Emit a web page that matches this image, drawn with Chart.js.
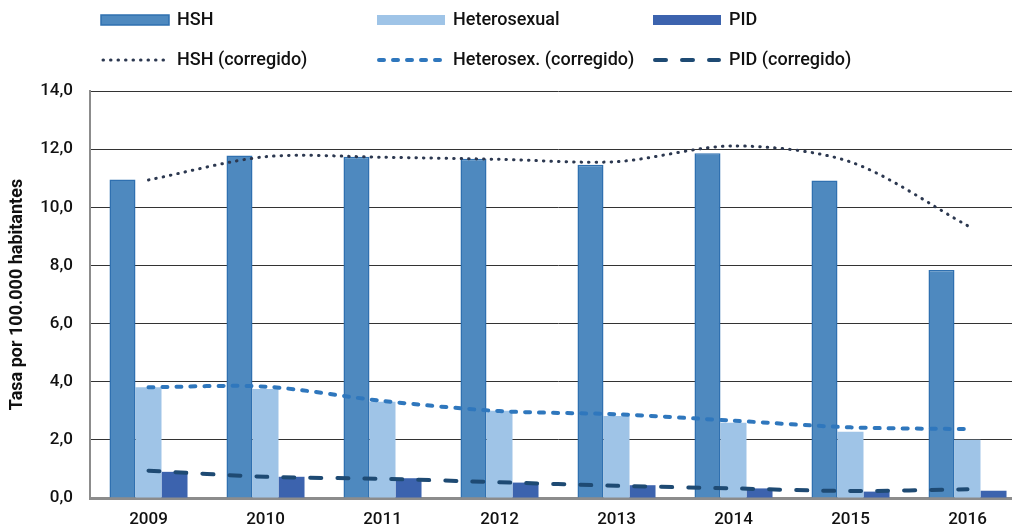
<!DOCTYPE html>
<html>
<head>
<meta charset="utf-8">
<script src="https://cdn.jsdelivr.net/npm/chart.js@4/dist/chart.umd.min.js"></script>
<style>
  html, body { margin: 0; padding: 0; background: #fff; overflow: hidden; }
  #wrap { position: absolute; left: 0; top: 0; width: 1040px; height: 530px; }
</style>
</head>
<body>
<div id="wrap"><canvas id="chart"></canvas></div>
<script>
const years = ["2009", "2010", "2011", "2012", "2013", "2014", "2015", "2016"];

// tasas observadas (barras)
const hsh = [10.96, 11.78, 11.74, 11.67, 11.46, 11.86, 10.92, 7.84];
const heterosexual = [3.81, 3.75, 3.31, 3.00, 2.82, 2.59, 2.28, 2.00];
const pid = [0.90, 0.73, 0.68, 0.53, 0.44, 0.33, 0.22, 0.25];

// tasas corregidas (lineas)
const hshCorr = [10.94, 11.74, 11.72, 11.65, 11.57, 12.11, 11.56, 9.37];
const heteroCorr = [3.81, 3.83, 3.34, 2.99, 2.88, 2.66, 2.43, 2.37];
const pidCorr = [0.94, 0.73, 0.66, 0.54, 0.42, 0.33, 0.24, 0.30];

const yTicks = { min: 0, max: 14, step: 2 };

const fontFamily = "Roboto, 'Liberation Sans', Arial, sans-serif";
Chart.defaults.font.family = fontFamily;
Chart.defaults.font.size = 17;
Chart.defaults.font.weight = 500;
Chart.defaults.color = "#111";

// leyenda en rejilla de 3 columnas, como en el original
const gridLegend = {
  id: "gridLegend",
  afterDraw(chart) {
    const ctx = chart.ctx;
    ctx.save();
    ctx.font = "500 18px " + fontFamily;
    ctx.textBaseline = "middle";
    chart.data.datasets.forEach((ds, i) => {
      const x = 101 + (i % 3) * 276;
      const y = 20 + Math.floor(i / 3) * 40;
      if (ds.type === "bar") {
        ctx.fillStyle = ds.backgroundColor;
        ctx.fillRect(x, y - 5, 68, 10);
        if (ds.borderWidth) {
          ctx.strokeStyle = ds.borderColor;
          ctx.lineWidth = ds.borderWidth;
          ctx.strokeRect(x, y - 5, 68, 10);
        }
      } else {
        ctx.strokeStyle = ds.borderColor;
        ctx.lineWidth = ds.borderWidth;
        ctx.lineCap = ds.borderCapStyle;
        ctx.setLineDash(ds.borderDash);
        ctx.beginPath();
        ctx.moveTo(x + 2, y);
        ctx.lineTo(x + 66, y);
        ctx.stroke();
        ctx.setLineDash([]);
      }
      ctx.fillStyle = "#111";
      ctx.fillText(ds.label, x + 76, y);
    });
    ctx.restore();
  }
};

function barSet(label, data, fill, border, bw) {
  return {
    type: "bar", label, data,
    backgroundColor: fill, borderColor: border, borderWidth: bw,
    categoryPercentage: 0.667, barPercentage: 1.0, order: 2,
  };
}

function lineSet(label, data, color, width, dash) {
  return {
    type: "line", label, data,
    borderColor: color, borderWidth: width, borderDash: dash,
    borderCapStyle: "round", tension: 0.3, pointRadius: 0,
    fill: false, order: 1,
  };
}

new Chart(document.getElementById("chart"), {
  data: {
    labels: years,
    datasets: [
      barSet("HSH", hsh, "#4e89bf", "#2f70b0", 1.5),
      barSet("Heterosexual", heterosexual, "#9fc4e7", "#9fc4e7", 0),
      barSet("PID", pid, "#3c63ae", "#3c63ae", 0),
      lineSet("HSH (corregido)", hshCorr, "#2c3850", 3, [0.5, 7]),
      lineSet("Heterosex. (corregido)", heteroCorr, "#2f77bd", 4, [5, 9]),
      lineSet("PID (corregido)", pidCorr, "#1e4a73", 4, [11, 16]),
    ],
  },
  options: {
    responsive: true,
    maintainAspectRatio: false,
    animation: false,
    layout: { padding: { top: 91, right: 14, left: 0, bottom: 0 } },
    plugins: { legend: { display: false }, tooltip: { enabled: false } },
    scales: {
      x: {
        grid: { display: false, drawTicks: false },
        border: { color: "#8c8c8c", width: 3 },
        ticks: { padding: 12 },
        afterFit(scale) { scale.height = 32; },
      },
      y: {
        min: yTicks.min,
        max: yTicks.max,
        grid: { color: "#333", lineWidth: 1, drawTicks: false },
        border: { color: "#8c8c8c", width: 2 },
        ticks: {
          stepSize: yTicks.step,
          padding: 17,
          callback: (v) => v.toFixed(1).replace(".", ","),
        },
        title: {
          display: true,
          text: "Tasa por 100.000 habitantes",
          font: { size: 18, weight: "bold" },
          padding: { top: 7, bottom: 0 },
        },
        afterFit(scale) { scale.width = 90; },
      },
    },
  },
  plugins: [gridLegend],
});
</script>
</body>
</html>
